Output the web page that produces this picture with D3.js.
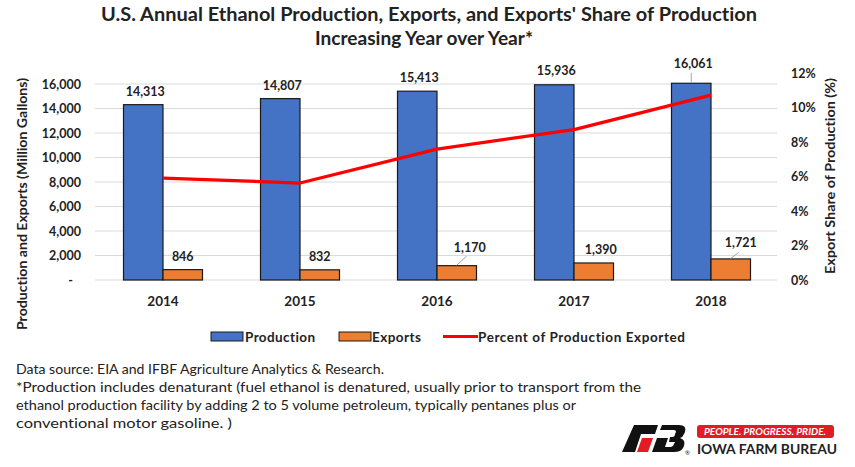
<!DOCTYPE html>
<html><head><meta charset="utf-8">
<script src="https://cdn.jsdelivr.net/npm/d3@7"></script>
<style>
body{margin:0;background:#fff;}
svg text{font-family:Lato,"Open Sans",sans-serif;fill:#222;font-variant-ligatures:none;}
</style></head>
<body>
<svg id="c" width="855" height="467"></svg>
<script>
const years = ["2014","2015","2016","2017","2018"];
const production = [14313, 14807, 15413, 15936, 16061];
const exportsVol = [846, 832, 1170, 1390, 1721];
const pctExported = [5.91, 5.62, 7.59, 8.72, 10.72];
const leftTicks = [0, 2000, 4000, 6000, 8000, 10000, 12000, 14000, 16000];
const rightTicks = [0, 2, 4, 6, 8, 10, 12];
const titleLines = ["U.S. Annual Ethanol Production, Exports, and Exports' Share of Production", "Increasing Year over Year*"];
const footLines = [
  "Data source: EIA and IFBF Agriculture Analytics & Research.",
  "*Production includes denaturant (fuel ethanol is denatured, usually prior to transport from the",
  "ethanol production facility by adding 2 to 5 volume petroleum, typically pentanes plus or",
  "conventional motor gasoline. )"
];

const svg = d3.select("#c");
const fmt = d3.format(",");
const x = d3.scaleBand().domain(years).range([94.5, 779.5]);
const xi = d3.scaleBand().domain(["p","e"]).range([0, 79]);
const yL = d3.scaleLinear().domain([0, 16000]).range([280, 84]);
const yR = d3.scaleLinear().domain([0, 12]).range([280, 73]);
const cx = d => x(d) + x.bandwidth()/2;

// title
svg.selectAll(".title").data(titleLines).join("text")
  .attr("x", (d,i)=> i===0 ? 429 : 424).attr("y",(d,i)=>21+i*24)
  .attr("text-anchor","middle").attr("font-size",18.5).attr("font-weight","bold")
  .attr("textLength",(d,i)=> i===0 ? 656 : 218).attr("lengthAdjust","spacingAndGlyphs")
  .text(d=>d);

// gridlines
svg.append("g").selectAll("line").data(leftTicks).join("line")
  .attr("x1",95).attr("x2",777).attr("y1",d=>yL(d)).attr("y2",d=>yL(d))
  .attr("stroke","#d9d9d9").attr("stroke-width",1.2);

// left axis
const gL = svg.append("g").attr("transform","translate(81,0)")
  .call(d3.axisLeft(yL).tickValues(leftTicks).tickSize(0).tickPadding(0).tickFormat(d=> d===0 ? "-" : fmt(d)));
gL.select(".domain").remove();
gL.selectAll("text").attr("font-size",12.5).attr("font-weight","bold").attr("font-family","Lato").attr("fill","#222")
  .attr("dx", d=> d===0 ? -8 : 0);

// right axis
const gR = svg.append("g").attr("transform","translate(791,0)")
  .call(d3.axisRight(yR).tickValues(rightTicks).tickSize(0).tickPadding(0).tickFormat(d=>d+"%"));
gR.select(".domain").remove();
gR.selectAll("text").attr("font-size",12.5).attr("font-weight","bold").attr("font-family","Lato").attr("fill","#222");

// x axis labels
const gX = svg.append("g").attr("transform","translate(0,296)")
  .call(d3.axisBottom(x).tickSize(0).tickPadding(0));
gX.select(".domain").remove();
gX.selectAll("text").attr("font-size",13.5).attr("font-weight","bold").attr("font-family","Lato").attr("fill","#222");

// axis titles
svg.append("text").attr("transform","translate(27,204) rotate(-90)")
  .attr("text-anchor","middle").attr("font-size",13).attr("font-weight","bold")
  .attr("textLength",252).attr("lengthAdjust","spacingAndGlyphs")
  .text("Production and Exports (Million Gallons)");
svg.append("text").attr("transform","translate(835,176) rotate(-90)")
  .attr("text-anchor","middle").attr("font-size",13).attr("font-weight","bold")
  .attr("textLength",196).attr("lengthAdjust","spacingAndGlyphs")
  .text("Export Share of Production (%)");

// bars
const bx = d => cx(d) - 39.5;
svg.append("g").selectAll("rect").data(years).join("rect")
  .attr("x",d=>bx(d)+xi("p")).attr("width",xi.bandwidth())
  .attr("y",(d,i)=>yL(production[i])).attr("height",(d,i)=>yL(0)-yL(production[i]))
  .attr("fill","#4472C4").attr("stroke","#1a1a1a").attr("stroke-width",1.2);
svg.append("g").selectAll("rect").data(years).join("rect")
  .attr("x",d=>bx(d)+xi("e")).attr("width",xi.bandwidth())
  .attr("y",(d,i)=>yL(exportsVol[i])).attr("height",(d,i)=>yL(0)-yL(exportsVol[i]))
  .attr("fill","#ED7D31").attr("stroke","#1a1a1a").attr("stroke-width",1.2);

// line
const line = d3.line().x((d,i)=>cx(years[i])).y(d=>yR(d));
svg.append("path").datum(pctExported).attr("d",line)
  .attr("fill","none").attr("stroke","#FF0000").attr("stroke-width",3.2).attr("stroke-linejoin","round");

// data labels
const prodDy = [0,0,0,1,6];
const expOff = [[0,0],[0,0],[13,5],[7,0],[10,3]];
svg.append("g").selectAll("text").data(years).join("text")
  .attr("x",d=>bx(d)+xi("p")+xi.bandwidth()/2+2)
  .attr("y",(d,i)=>yL(production[i])-9-prodDy[i])
  .attr("text-anchor","middle").attr("font-size",12.5).attr("font-weight","bold")
  .text((d,i)=>fmt(production[i]));
svg.append("g").selectAll("text").data(years).join("text")
  .attr("x",(d,i)=>bx(d)+xi("e")+xi.bandwidth()/2+expOff[i][0])
  .attr("y",(d,i)=>yL(exportsVol[i])-9-expOff[i][1])
  .attr("text-anchor","middle").attr("font-size",12.5).attr("font-weight","bold")
  .text((d,i)=>fmt(exportsVol[i]));
// leader lines
const leaders = [
  {x: bx("2018")+xi("p")+xi.bandwidth()/2, v: production[4], dx:0, dy:10},
  {x: bx("2016")+xi("e")+xi.bandwidth()/2, v: exportsVol[2], dx:10, dy:9},
  {x: bx("2018")+xi("e")+xi.bandwidth()/2, v: exportsVol[4], dx:8, dy:6}
];
svg.append("g").selectAll("line").data(leaders).join("line")
  .attr("x1",d=>d.x).attr("y1",d=>yL(d.v)-0.5)
  .attr("x2",d=>d.x+d.dx).attr("y2",d=>yL(d.v)-0.5-d.dy)
  .attr("stroke","#a6a6a6").attr("stroke-width",1);

// legend
const lg = svg.append("g");
lg.append("rect").attr("x",211).attr("y",332).attr("width",32).attr("height",9).attr("fill","#4472C4").attr("stroke","#1a1a1a");
lg.append("text").attr("x",245).attr("y",342).attr("font-size",13.5).attr("font-weight","bold").attr("textLength",70).text("Production");
lg.append("rect").attr("x",339).attr("y",332).attr("width",32).attr("height",9).attr("fill","#ED7D31").attr("stroke","#1a1a1a");
lg.append("text").attr("x",372).attr("y",342).attr("font-size",13.5).attr("font-weight","bold").attr("textLength",49).text("Exports");
lg.append("line").attr("x1",443).attr("x2",478).attr("y1",336.5).attr("y2",336.5).attr("stroke","#FF0000").attr("stroke-width",3);
lg.append("text").attr("x",478).attr("y",342).attr("font-size",13.5).attr("font-weight","bold").attr("textLength",207).text("Percent of Production Exported");

// footnote
svg.append("g").selectAll("text").data(footLines).join("text")
  .attr("x",16).attr("y",(d,i)=>374+i*18)
  .attr("font-size",13.5)
  .attr("textLength",(d,i)=>[368,625,560,216][i]).attr("lengthAdjust","spacingAndGlyphs")
  .text(d=>d);

// logo
const logo = svg.append("g");
logo.append("path").attr("d","M634,425 L658,425 L655,434 L641,434 L635,452 L622,452 Z").attr("fill","#111");
logo.append("path").attr("d","M642,438 L653,438 L648,452 L637,452 Z").attr("fill","#e31b23");
logo.append("path").attr("d","M662,425 L679,425 Q687,425 685,432 L684,434 Q683,437 680,438 Q686,440 684,446 L683,448 Q681,452 674,452 L652,452 L657,438 L668,438 L665,447 L671,447 Q673,447 674,444 L675,442 L669,442 L670,437 L672,437 Q675,437 675,434 L676,432 Q676,430 674,430 L660,430 Z").attr("fill","#111");
logo.append("text").attr("x",685).attr("y",455).attr("font-size",6).text("®");
logo.append("rect").attr("x",697).attr("y",425).attr("width",137).attr("height",13).attr("rx",3).attr("fill","#e31b23");
logo.append("text").attr("x",765).attr("y",435).attr("text-anchor","middle").attr("font-size",8.5).attr("font-weight","bold").attr("font-style","italic")
  .attr("textLength",122).attr("lengthAdjust","spacingAndGlyphs").style("fill","#fff").text("PEOPLE. PROGRESS. PRIDE.");
logo.append("text").attr("x",697).attr("y",454).attr("font-size",13).attr("font-weight","bold")
  .attr("textLength",140).attr("lengthAdjust","spacingAndGlyphs").text("IOWA FARM BUREAU");
</script>
</body></html>
